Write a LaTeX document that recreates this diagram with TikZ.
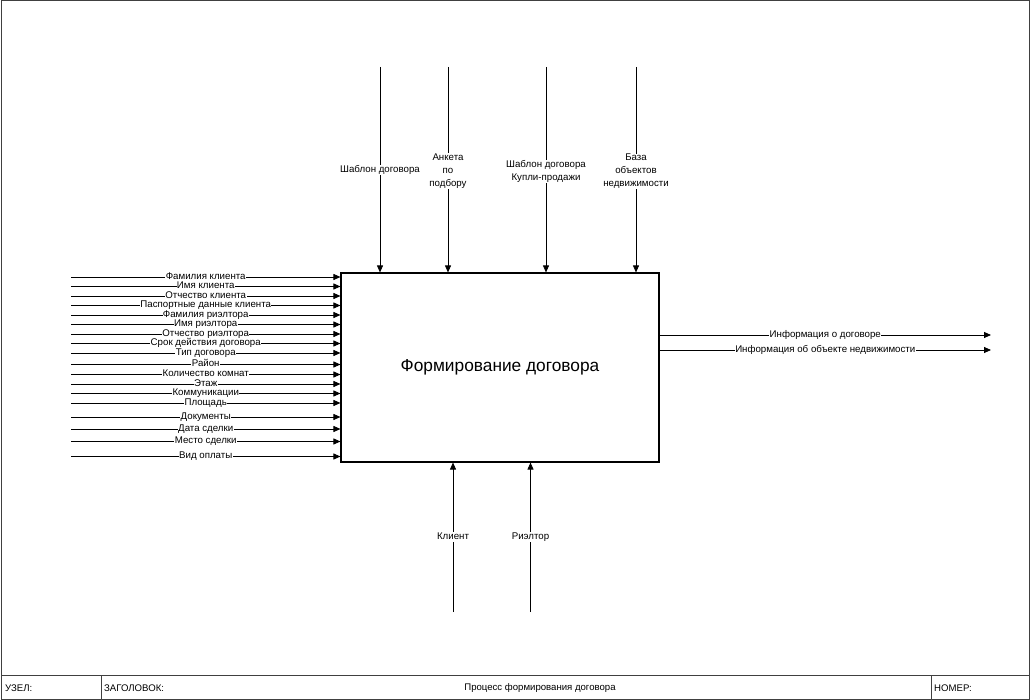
\documentclass[tikz,border=0pt]{standalone}
\usepackage{fontspec}
\setmainfont{Liberation Sans}
\usetikzlibrary{arrows.meta}
\begin{document}
\begin{tikzpicture}[x=1pt,y=-1pt,
  flow/.style={draw=black, line width=0.8pt, -{Triangle[length=7pt,width=6pt]}},
  lbl/.style={fill=white, inner sep=0.4pt, font=\fontsize{9.7}{13}\selectfont, align=center},
  lbls/.style={lbl, text height=7pt, text depth=2.2pt},
  frame/.style={draw=black!75, line width=1pt},
  foot/.style={font=\fontsize{9.6}{11}\selectfont, inner sep=0pt}]
\useasboundingbox (0,0) rectangle (1031,700);
\fill[white] (0,0) rectangle (1031,700);

% sheet frame and footer
\draw[frame] (1,1) rectangle (1029,699);
\draw[frame] (1,675) -- (1029,675);
\draw[frame] (101,675) -- (101,699);
\draw[frame] (931,675) -- (931,699);
\node[foot, anchor=west] (node) at (5,688) {УЗЕЛ:};
\node[foot, anchor=west] (title) at (104,688) {ЗАГОЛОВОК:};
\node[foot] (titletext) at (540,688) {Процесс формирования договора};
\node[foot, anchor=west] (number) at (934,688) {НОМЕР:};

% the activity
\node[draw=black, line width=1.1pt, minimum width=318pt, minimum height=189pt, inner sep=0pt,
      font=\fontsize{17.3}{20}\selectfont] (proc) at (500,367.5) {Формирование договора};

% inputs
\foreach \y/\t [count=\i] in {
  277/Фамилия клиента,
  286.5/Имя клиента,
  296/Отчество клиента,
  305.5/Паспортные данные клиента,
  315/Фамилия риэлтора,
  324.5/Имя риэлтора,
  334/Отчество риэлтора,
  343.5/Срок действия договора,
  353/Тип договора,
  364.5/Район,
  374.5/Количество комнат,
  384/Этаж,
  393.5/Коммуникации,
  403/Площадь,
  417/Документы,
  429/Дата сделки,
  441.5/Место сделки,
  456.5/Вид оплаты} {
  \coordinate (in\i) at (71,\y);
  \draw[flow] (in\i) -- (in\i -| proc.west) node[lbls, midway] {\t};
}

% controls
\coordinate (c1) at (380,67);
\coordinate (c2) at (448,67);
\coordinate (c3) at (546,67);
\coordinate (c4) at (636,67);
\draw[flow] (c1) -- (c1 |- proc.north) node[lbls, midway] {Шаблон договора};
\draw[flow] (c2) -- (c2 |- proc.north) node[lbl, midway, yshift=-1.5pt] {Анкета\\по\\подбору};
\draw[flow] (c3) -- (c3 |- proc.north) node[lbl, midway, yshift=-1.5pt] {Шаблон договора\\Купли-продажи};
\draw[flow] (c4) -- (c4 |- proc.north) node[lbl, midway, yshift=-1.5pt] {База\\объектов\\недвижимости};

% mechanisms
\coordinate (m1) at (453,612);
\coordinate (m2) at (530.5,612);
\draw[flow] (m1) -- (m1 |- proc.south) node[lbls, midway] {Клиент};
\draw[flow] (m2) -- (m2 |- proc.south) node[lbls, midway] {Риэлтор};

% outputs
\coordinate (o1) at (991,335);
\coordinate (o2) at (991,350);
\draw[flow] (o1 -| proc.east) -- (o1) node[lbls, midway] {Информация о договоре};
\draw[flow] (o2 -| proc.east) -- (o2) node[lbls, midway] {Информация об объекте недвижимости};
\end{tikzpicture}
\end{document}
